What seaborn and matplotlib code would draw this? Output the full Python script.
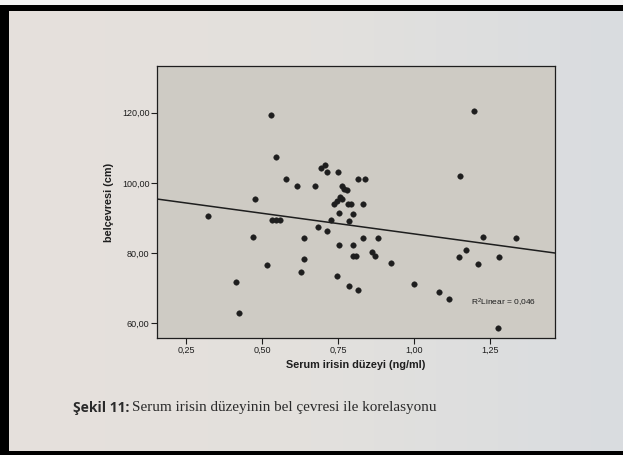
import matplotlib
matplotlib.use("Agg")
import matplotlib.pyplot as plt
import seaborn as sns
import numpy as np
import pandas as pd
from matplotlib.patches import Rectangle
from matplotlib.colors import LinearSegmentedColormap

# data
irisin = [0.323, 0.416, 0.425, 0.472, 0.477, 0.518, 0.531, 0.532, 0.545, 0.558,
          0.546, 0.578, 0.614, 0.630, 0.640, 0.640, 0.675, 0.686, 0.695, 0.709,
          0.713, 0.714, 0.726, 0.738, 0.747, 0.758, 0.763, 0.752, 0.747, 0.752,
          0.750, 0.763, 0.770, 0.779, 0.782, 0.792, 0.785, 0.785, 0.800, 0.800,
          0.800, 0.808, 0.815, 0.817, 0.831, 0.834, 0.840, 0.862, 0.871, 0.881,
          0.924, 1.000, 1.083, 1.116, 1.148, 1.150, 1.172, 1.198, 1.210, 1.226,
          1.276, 1.280, 1.335]
belcevresi = [90.7, 71.8, 62.8, 84.5, 95.4, 76.6, 119.3, 89.4, 89.4, 89.4,
              107.3, 101.2, 99.1, 74.6, 84.4, 78.4, 99.1, 87.3, 104.3, 105.1,
              103.1, 86.3, 89.4, 94.1, 94.8, 96.1, 95.3, 91.3, 73.5, 82.3,
              103.1, 99.0, 98.2, 98.0, 94.1, 94.1, 89.2, 70.5, 91.2, 82.3,
              79.3, 79.3, 101.1, 69.4, 94.1, 84.2, 101.1, 80.2, 79.3, 84.2,
              77.1, 71.2, 69.0, 67.0, 78.8, 102.1, 80.9, 120.6, 76.9, 84.5,
              58.7, 78.9, 84.4]
x_ticks = [0.25, 0.50, 0.75, 1.00, 1.25]
x_tick_labels = ["0,25", "0,50", "0,75", "1,00", "1,25"]
y_ticks = [60, 80, 100, 120]
y_tick_labels = ["60,00", "80,00", "100,00", "120,00"]
r2_label = "R$^2$Linear = 0,046"

df = pd.DataFrame({"irisin": irisin, "bel": belcevresi})

sns.set_style("white")
plt.rcParams["font.family"] = ["Liberation Sans", "DejaVu Sans"]
plt.rcParams["mathtext.default"] = "regular"

page = "#e2dfda"
plot_bg = "#cecbc4"
ink = "#1e1e1e"

W, H = 623, 455
fig = plt.figure(figsize=(W / 100, H / 100), dpi=100)
fig.patch.set_facecolor(page)

# photographed-page background: warm on the left, cooler on the right
bg = fig.add_axes([0, 0, 1, 1], zorder=-5)
bg.axis("off")
page_cmap = LinearSegmentedColormap.from_list("page", ["#e6e0dc", "#e3e1dd", "#d9dce0"])
bg.imshow(np.tile(np.linspace(0, 1, 256), (2, 1)), cmap=page_cmap,
          aspect="auto", extent=[0, 1, 0, 1])
bg.set_xlim(0, 1)
bg.set_ylim(0, 1)

ax = fig.add_axes([157 / W, 1 - 338 / H, 398 / W, 272 / H])
ax.set_facecolor(plot_bg)
ax.set_xlim(0.155, 1.464)
ax.set_ylim(55.8, 133.3)

sns.scatterplot(data=df, x="irisin", y="bel", ax=ax, color=ink, s=16,
                edgecolor=ink, linewidth=0.3, zorder=3)
sns.regplot(data=df, x="irisin", y="bel", ax=ax, scatter=False, ci=None,
            truncate=False, line_kws={"color": ink, "lw": 1.1})
ax.set_xlim(0.155, 1.464)
ax.set_ylim(55.8, 133.3)

ax.set_xticks(x_ticks)
ax.set_xticklabels(x_tick_labels)
ax.set_yticks(y_ticks)
ax.set_yticklabels(y_tick_labels)
ax.tick_params(axis="both", which="both", direction="out", length=4, width=0.8,
               colors=ink, labelsize=6.5, left=True, bottom=True, pad=1.5)
for sp in ax.spines.values():
    sp.set_color(ink)
    sp.set_linewidth(0.9)

ax.set_xlabel("Serum irisin düzeyi (ng/ml)", fontsize=7.8, fontweight="bold",
              color=ink, labelpad=4)
ax.set_ylabel("belçevresi (cm)", fontsize=7.8, fontweight="bold", color=ink,
              labelpad=6)

ax.text(0.789, 0.129, r2_label, transform=ax.transAxes, fontsize=6,
        color=ink, ha="left", va="center")

# caption
fig.text(73 / W, 1 - 408 / H, "Şekil 11:", family=["Open Sans", "DejaVu Sans"],
         fontweight="bold", fontsize=10, color="#2a2a2a", ha="left", va="center")
fig.text(131.5 / W, 1 - 407 / H,
         "Serum irisin düzeyinin bel çevresi ile korelasyonu",
         family=["Liberation Serif", "DejaVu Serif"], fontsize=10.9,
         color="#2a2a2a", ha="left", va="center")

# photo frame border (white strip at the very top, black on top/left/bottom)
def px_rect(x0, y0, x1, y1, color):
    fig.patches.append(Rectangle((x0 / W, 1 - y1 / H), (x1 - x0) / W,
                                 (y1 - y0) / H, transform=fig.transFigure,
                                 facecolor=color, edgecolor="none", zorder=10))

px_rect(0, 0, W, 5, "#f4f4f4")
px_rect(2, 5, W, 11, "black")
px_rect(0, 5, 9, H, "black")
px_rect(0, 451, W, H, "black")

fig.savefig("out.png", dpi=100, facecolor=page)
